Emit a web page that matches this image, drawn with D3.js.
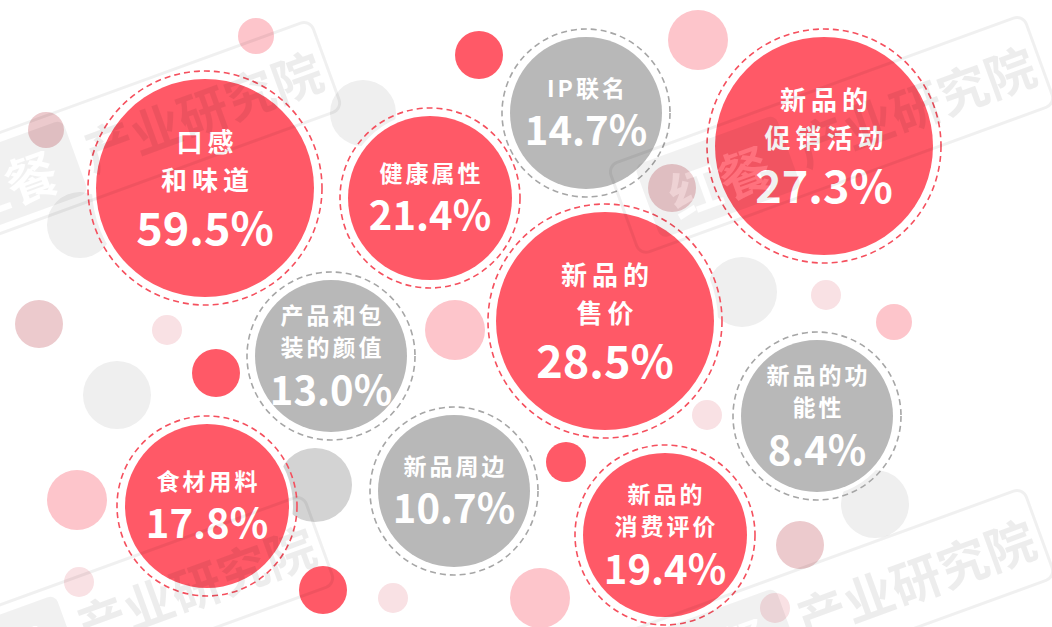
<!DOCTYPE html>
<html>
<head>
<meta charset="utf-8">
<script src="https://cdn.jsdelivr.net/npm/d3@7"></script>
<style>
  html, body { margin: 0; padding: 0; background: #ffffff; }
  svg { display: block; }
  text { font-family: "Noto Sans CJK SC", "Noto Sans", sans-serif; }
</style>
</head>
<body>
<svg id="chart" width="1052" height="627"></svg>
<script>
// ---- data ----
const categories = ["口感\n和味道", "健康属性", "IP联名", "新品的\n促销活动", "新品的\n售价",
  "产品和包\n装的颜值", "新品周边", "新品的\n消费评价", "新品的功\n能性", "食材用料"];
const values = [59.5, 21.4, 14.7, 27.3, 28.5, 13.0, 10.7, 19.4, 8.4, 17.8];

// bubble layout anchors (in a 1052 x 627 reference frame)
const layoutX = [205, 430, 586, 824, 605, 331, 454, 665, 817, 207];
const layoutY = [188, 198, 113, 146, 321, 356, 491, 535, 416, 506];

// decorative background dots: x, y, r, tone
const decor = [
  [256, 36, 18, "p"], [46, 130, 18, "m"], [363, 113, 33, "lg"], [479, 55, 24, "r"],
  [698, 40, 30, "p"], [672, 188, 24, "m"], [742, 292, 35, "lg"], [826, 295, 15, "lp"],
  [894, 322, 18, "p"], [707, 415, 15, "lp"], [875, 504, 34, "lg"], [800, 545, 24, "m"],
  [775, 608, 15, "lp"], [39, 324, 24, "m"], [167, 330, 15, "lp"], [216, 373, 24, "r"],
  [117, 395, 34, "lg"], [315, 485, 37, "g"], [77, 500, 30, "p"], [79, 582, 15, "lp"],
  [323, 590, 24, "r"], [455, 330, 30, "p"], [566, 462, 20, "r"], [393, 598, 15, "lp"],
  [540, 598, 30, "p"], [80, 225, 33, "lg"]
];
const toneColor = { r: "#ff5967", p: "#fdc5cb", lp: "#f9e1e4", m: "#eccacd", lg: "#efefef", g: "#d3d3d3" };

// watermark anchors
const markX = [202, 915, 195, 915];
const markY = [109, 104, 584, 577];

// ---- chart ----
const W = 1052, H = 627;
const svg = d3.select("#chart");
const x = d3.scaleLinear().domain([0, 1052]).range([0, W]);
const y = d3.scaleLinear().domain([0, 627]).range([0, H]);

const rScale = d3.scaleThreshold().domain([15, 25]).range([76, 82, 109]);
const fillScale = d3.scaleThreshold().domain([17]).range(["#b8b8b8", "#ff5967"]);
const ringScale = d3.scaleThreshold().domain([17]).range(["#a6a6a6", "#f5505e"]);

// mask for the watermark logo (glyphs knocked out of the badge)
const defs = svg.append("defs");
const mask = defs.append("mask").attr("id", "logoMask")
  .attr("maskUnits", "userSpaceOnUse").attr("x", -400).attr("y", -100).attr("width", 400).attr("height", 200);
mask.append("rect").attr("x", -400).attr("y", -100).attr("width", 400).attr("height", 200).attr("fill", "#fff");
mask.append("text").text("红餐").attr("x", -210).attr("y", 4)
  .attr("text-anchor", "middle").attr("dominant-baseline", "central")
  .attr("font-size", 52).attr("font-weight", 700).attr("fill", "#000");

// decor
svg.append("g").selectAll("circle").data(decor).join("circle")
  .attr("cx", d => x(d[0])).attr("cy", d => y(d[1])).attr("r", d => d[2])
  .attr("fill", d => toneColor[d[3]]);

const data = categories.map((c, i) => ({ c, v: values[i], cx: layoutX[i], cy: layoutY[i] }));

const g = svg.append("g").selectAll("g").data(data).join("g")
  .attr("transform", d => `translate(${x(d.cx)},${y(d.cy)})`);

g.append("circle").attr("r", d => rScale(d.v) + 4).attr("fill", "#ffffff");
g.append("circle").attr("r", d => rScale(d.v)).attr("fill", d => fillScale(d.v));
g.append("circle").attr("r", d => rScale(d.v) + 8).attr("fill", "none")
  .attr("stroke", d => ringScale(d.v)).attr("stroke-width", 1.6)
  .attr("stroke-dasharray", "6,4");

g.each(function(d) {
  const sel = d3.select(this);
  const lines = d.c.split("\n");
  const big = rScale(d.v) > 100;
  let offs;
  if (lines.length === 2) offs = big ? [-48, -10, 37] : [-42, -10, 31.5];
  else offs = [-26.5, 14.5];
  const lfs = big ? 26 : 23, lsp = big ? 5 : 3;
  const pfs = big ? 45 : 40;
  lines.forEach((t, k) => {
    sel.append("text").text(t)
      .attr("x", lsp / 2).attr("y", offs[k])
      .attr("text-anchor", "middle").attr("dominant-baseline", "central")
      .attr("fill", "#ffffff").attr("font-weight", 700)
      .attr("font-size", lfs).attr("letter-spacing", lsp);
  });
  sel.append("text").text(d3.format(".1f")(d.v) + "%")
    .attr("x", 0).attr("y", offs[offs.length - 1])
    .attr("text-anchor", "middle").attr("dominant-baseline", "central")
    .attr("fill", "#ffffff").attr("font-weight", 700)
    .attr("font-size", pfs);
});

// watermarks
const wm = svg.append("g").selectAll("g").data(markX.map((m, i) => [m, markY[i]])).join("g")
  .attr("transform", d => `translate(${x(d[0])},${y(d[1])}) rotate(-20)`)
  .attr("pointer-events", "none");
wm.append("rect").attr("x", -310).attr("y", -47).attr("width", 442).attr("height", 95)
  .attr("rx", 10).attr("fill", "none").attr("stroke", "rgba(0,0,0,0.06)").attr("stroke-width", 3);
wm.append("rect").attr("x", -285).attr("y", -38).attr("width", 150).attr("height", 78)
  .attr("rx", 8).attr("fill", "rgba(0,0,0,0.055)").attr("mask", "url(#logoMask)");
wm.append("text").text("红餐").attr("x", -210).attr("y", 4)
  .attr("text-anchor", "middle").attr("dominant-baseline", "central")
  .attr("font-size", 52).attr("font-weight", 700).attr("fill", "rgba(255,255,255,0.15)");
wm.append("text").text("产业研究院").attr("x", 0).attr("y", 0)
  .attr("text-anchor", "middle").attr("dominant-baseline", "central")
  .attr("font-size", 50).attr("font-weight", 700).attr("fill", "rgba(0,0,0,0.07)");
</script>
</body>
</html>
